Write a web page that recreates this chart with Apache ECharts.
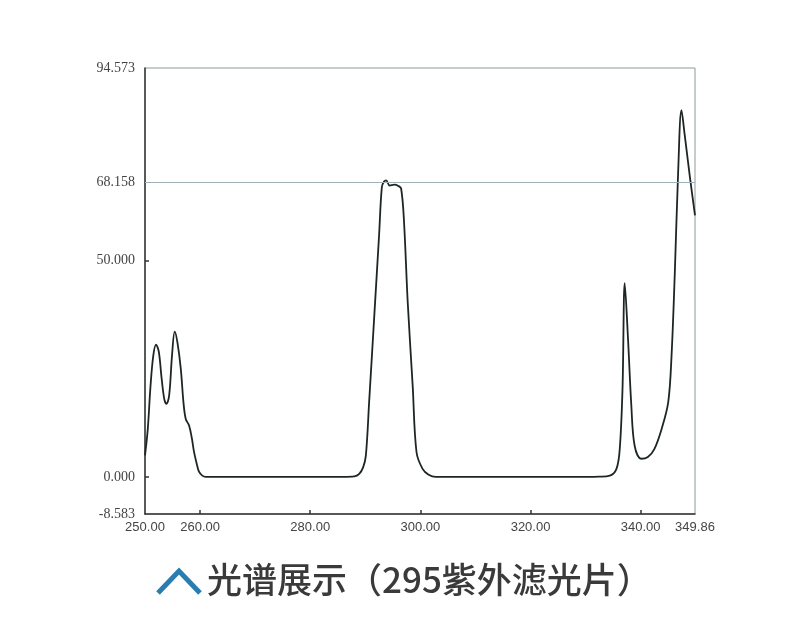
<!DOCTYPE html>
<html>
<head>
<meta charset="utf-8">
<script src="https://cdn.jsdelivr.net/npm/echarts@6/dist/echarts.min.js"></script>
<style>html,body{margin:0;padding:0;background:#fff;}#c{width:800px;height:624px;}</style>
</head>
<body>
<div id="c"></div>
<script>
// wavelengths (nm)
const wavelengths = [250, 250.5, 251, 251.5, 252, 252.5, 253, 253.5, 253.9, 254.4, 254.9, 255.4, 255.9, 256.5, 257, 257.4, 258, 258.5, 258.9, 259.4, 259.8, 260.4, 261,
  270, 280, 286, 288, 288.9, 289.6, 290.1, 290.7, 291.6, 292.5, 293, 293.4, 293.8, 294.4, 295.3, 296, 296.5, 297, 297.7, 298.6, 299.3, 300.4, 301.5, 302.8,
  310, 320, 330, 332.5, 334.4, 335.6, 336.2, 336.7, 337.1, 337.7, 338.3, 338.9, 340.1, 341.3, 342.5, 343.8, 345, 345.6, 346.2, 346.8, 347.4, 348, 348.9, 349.86];
// transmittance values
const values = [5.0, 11.0, 21.0, 28.0, 30.6, 29.0, 23.0, 18.0, 16.9, 19.0, 28.0, 33.6, 31.0, 25.0, 17.0, 13.4, 11.9, 9.0, 5.8, 3.0, 1.2, 0.3, 0,
  0, 0, 0, 0.1, 0.7, 2.2, 4.9, 17.4, 36.6, 55.9, 67.0, 68.3, 68.6, 67.4, 67.6, 67.3, 66.7, 59.7, 40.4, 21.1, 5.7, 1.85, 0.5, 0,
  0, 0, 0, 0.05, 0.3, 1.85, 6.5, 20.4, 44.8, 31.9, 16.5, 7.2, 4.2, 4.6, 6.5, 11.1, 17.3, 28.0, 47.4, 70.5, 84.8, 79.0, 69.7, 60.5];
const xLabelValues = [250, 260, 280, 300, 320, 340, 349.86];
const xTickValues = [260, 280, 300, 320, 340];
const yLabelValues = [-8.583, 0, 50, 68.158, 94.573];
const yTickValues = [0, 50];
const refLineValue = 68.158;
const titleText = '光谱展示（295紫外滤光片）';

const seriesData = wavelengths.map((w, i) => [w, values[i]]);
const chart = echarts.init(document.getElementById('c'));
chart.setOption({
  backgroundColor: '#fff',
  animation: false,
  grid: { left: 145, right: 105, top: 68, bottom: 110, show: true, borderColor: '#8e9a9e', borderWidth: 1, backgroundColor: 'transparent' },
  xAxis: {
    type: 'value', min: 250, max: 349.86,
    axisLine: { show: true, onZero: false, lineStyle: { color: '#333', width: 1.5 } },
    axisTick: { show: true, inside: true, length: 4, customValues: xTickValues, lineStyle: { color: '#333', width: 1.5 } },
    axisLabel: { customValues: xLabelValues, formatter: v => v.toFixed(2), color: '#444', fontSize: 13, fontFamily: 'Liberation Sans', margin: 7 },
    splitLine: { show: false }
  },
  yAxis: {
    type: 'value', min: -8.583, max: 94.573,
    axisLine: { show: true, onZero: false, lineStyle: { color: '#333', width: 1.5 } },
    axisTick: { show: true, inside: true, length: 4, customValues: yTickValues, lineStyle: { color: '#333', width: 1.5 } },
    axisLabel: { customValues: yLabelValues, formatter: v => v.toFixed(3), color: '#444', fontSize: 14, fontFamily: 'Liberation Serif', margin: 10 },
    splitLine: { show: false }
  },
  series: [{
    type: 'line', data: seriesData, smooth: 0.35, symbol: 'none',
    lineStyle: { color: '#1e2624', width: 1.8 },
    markLine: {
      silent: true, symbol: 'none', label: { show: false },
      lineStyle: { color: '#9fb1b8', width: 1.2, type: 'solid' },
      data: [{ yAxis: refLineValue }]
    }
  }],
  graphic: [
    { type: 'polyline', shape: { points: [[158, 593], [179, 571], [200, 593]] }, style: { stroke: '#2a7db3', lineWidth: 5, fill: null } },
    { type: 'text', left: 207, top: 562, style: { text: titleText, font: '500 35px "Noto Sans CJK SC"', fill: '#3a3a3a' } }
  ]
});
</script>
</body>
</html>
